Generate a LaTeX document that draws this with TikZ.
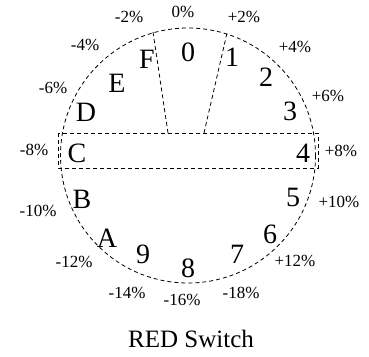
\documentclass[tikz,border=0pt]{standalone}
\usepackage{fontspec}
\setmainfont{Liberation Serif}
\usepackage{tikz}

\begin{document}
\begin{tikzpicture}[x=1pt,y=-1pt]
			\useasboundingbox (0,0) rectangle (369,356);
			\tikzstyle{every path}=[line width=0.8pt, dash pattern=on 4pt off 3pt]
			\tikzstyle{poslabel}=[font=\fontsize{28}{28}\selectfont, inner sep=0pt]
			\tikzstyle{pctlabel}=[font=\fontsize{17}{17}\selectfont, inner sep=0pt]
			
			\coordinate (ctr) at (188,155.5);
			\draw (ctr) circle [radius=127.5];
			\draw (58,133) rectangle (318,168);
			
			\coordinate (fl) at (168,133);
			\coordinate (ft) at (153,32);
			\coordinate (nl) at (204,133);
			\coordinate (nt) at (227,33);
			\draw (fl) -- (ft);
			\draw (nl) -- (nt);
			
			\node[poslabel] (p0) at (188,52) {0};
			\node[poslabel] (p1) at (232,57) {1};
			\node[poslabel] (p2) at (266,77) {2};
			\node[poslabel] (p3) at (290,111) {3};
			\node[poslabel] (p4) at (303,153) {4};
			\node[poslabel] (p5) at (293,197) {5};
			\node[poslabel] (p6) at (270,234) {6};
			\node[poslabel] (p7) at (237,254) {7};
			\node[poslabel] (p8) at (188,268) {8};
			\node[poslabel] (p9) at (143,254) {9};
			\node[poslabel] (pA) at (107,238) {A};
			\node[poslabel] (pB) at (82,199) {B};
			\node[poslabel] (pC) at (77,153) {C};
			\node[poslabel] (pD) at (86,112) {D};
			\node[poslabel] (pE) at (117,83) {E};
			\node[poslabel] (pF) at (147,59) {F};
			
			\node[pctlabel] (q0) at (183,12) {0\%};
			\node[pctlabel] (q1) at (244,17) {+2\%};
			\node[pctlabel] (q2) at (295,47) {+4\%};
			\node[pctlabel] (q3) at (328,96) {+6\%};
			\node[pctlabel] (q4) at (341,151) {+8\%};
			\node[pctlabel] (q5) at (339,202) {+10\%};
			\node[pctlabel] (q6) at (295,261) {+12\%};
			\node[pctlabel] (q7) at (241,293) {-18\%};
			\node[pctlabel] (q8) at (182,300) {-16\%};
			\node[pctlabel] (q9) at (127,293) {-14\%};
			\node[pctlabel] (qA) at (74,262) {-12\%};
			\node[pctlabel] (qB) at (38,211) {-10\%};
			\node[pctlabel] (qC) at (34,150) {-8\%};
			\node[pctlabel] (qD) at (53,88) {-6\%};
			\node[pctlabel] (qE) at (85,45) {-4\%};
			\node[pctlabel] (qF) at (129,17) {-2\%};
			
			\node[font=\fontsize{25}{25}\selectfont, inner sep=0pt] (title) at (191,339) {RED Switch};
		\end{tikzpicture}
\end{document}
